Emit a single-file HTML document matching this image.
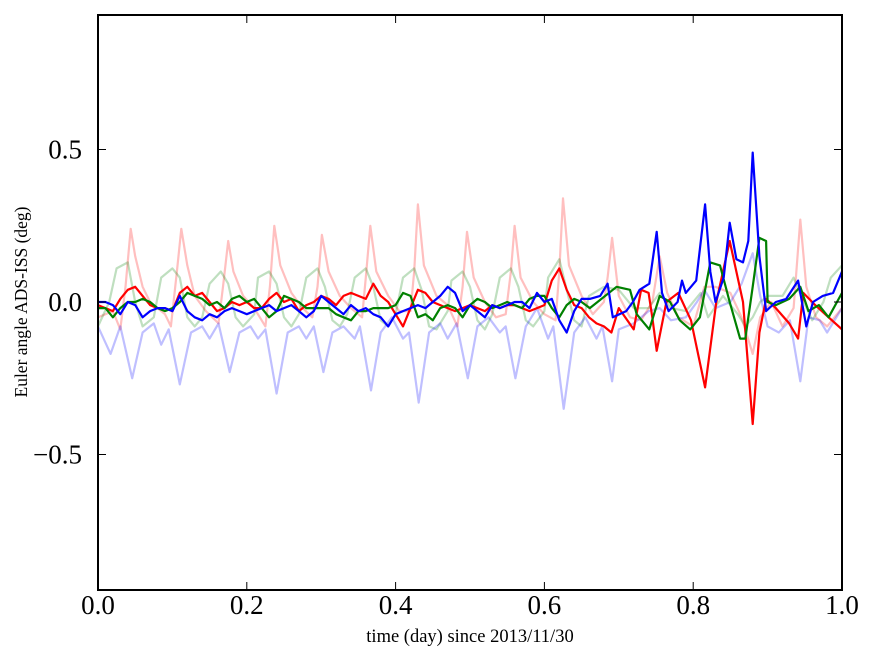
<!DOCTYPE html>
<html><head><meta charset="utf-8"><style>
body{margin:0;background:#fff}
svg text{font-family:"Liberation Serif",serif}
</style></head><body>
<svg id="c" width="875" height="662"></svg>
<script>
const xTicks=[0,0.2,0.4,0.6,0.8,1.0];
const xTickLabels=["0.0","0.2","0.4","0.6","0.8","1.0"];
const yTicks=[-0.5,0,0.5];
const yTickLabels=["\u22120.5","0.0","0.5"];

const fRedT=[0,0.02,0.03,0.037,0.044,0.05,0.06,0.07,0.08,0.09,0.098,0.106,0.112,0.12,0.13,0.145,0.162,0.168,0.175,0.182,0.195,0.21,0.225,0.231,0.237,0.245,0.26,0.275,0.288,0.295,0.301,0.31,0.325,0.34,0.355,0.36,0.366,0.374,0.39,0.405,0.42,0.425,0.43,0.438,0.455,0.47,0.483,0.49,0.496,0.505,0.52,0.535,0.548,0.555,0.56,0.568,0.585,0.6,0.615,0.62,0.625,0.633,0.65,0.665,0.68,0.685,0.691,0.7,0.715,0.73,0.745,0.755,0.765,0.78,0.8,0.815,0.83,0.85,0.865,0.88,0.89,0.905,0.92,0.935,0.944,0.952,0.965,0.98,1.0];
const fRedV=[-0.05,-0.03,-0.09,0.05,0.24,0.15,0.05,0,-0.02,-0.04,-0.08,0.1,0.24,0.12,0.02,-0.03,-0.07,0.05,0.2,0.1,0.02,-0.02,-0.08,0.05,0.25,0.12,0.03,-0.02,-0.05,0.05,0.22,0.1,0.02,-0.02,-0.05,0.08,0.25,0.1,0.02,-0.03,-0.03,0.1,0.32,0.12,0.02,-0.01,-0.08,0.05,0.23,0.08,0,-0.05,-0.04,0.1,0.25,0.08,0,-0.04,-0.06,0.1,0.34,0.12,0.02,-0.04,0,0.08,0.21,0.02,-0.05,-0.06,0,0.15,0.03,-0.05,-0.08,0.05,0.05,0.03,-0.05,-0.17,-0.05,0,-0.08,-0.02,0.27,0.05,-0.05,-0.08,-0.02];

const fBlueT=[0,0.017,0.03,0.046,0.06,0.075,0.085,0.095,0.11,0.125,0.14,0.15,0.162,0.177,0.19,0.205,0.215,0.225,0.24,0.255,0.27,0.28,0.29,0.303,0.315,0.33,0.345,0.352,0.367,0.38,0.395,0.41,0.418,0.431,0.445,0.46,0.47,0.482,0.497,0.51,0.525,0.54,0.548,0.561,0.575,0.59,0.605,0.612,0.626,0.64,0.655,0.67,0.678,0.691,0.7,0.72,0.74,0.755,0.77,0.79,0.805,0.815,0.83,0.85,0.865,0.88,0.89,0.9,0.915,0.93,0.944,0.955,0.97,0.98,1.0];
const fBlueV=[-0.08,-0.17,-0.08,-0.25,-0.1,-0.07,-0.14,-0.09,-0.27,-0.1,-0.08,-0.12,-0.07,-0.23,-0.1,-0.08,-0.12,-0.09,-0.3,-0.1,-0.08,-0.12,-0.08,-0.23,-0.1,-0.08,-0.12,-0.08,-0.29,-0.1,-0.05,-0.12,-0.1,-0.33,-0.1,-0.07,-0.12,-0.07,-0.25,-0.08,-0.05,-0.1,-0.08,-0.25,-0.08,-0.02,-0.12,-0.08,-0.35,-0.1,-0.05,-0.12,-0.08,-0.26,-0.09,-0.07,-0.03,-0.02,-0.06,-0.05,0,0.04,-0.02,0,0.06,0.16,0.02,-0.08,-0.1,-0.06,-0.26,-0.05,-0.06,-0.1,-0.02];

const fGreenT=[0,0.015,0.025,0.04,0.05,0.06,0.075,0.085,0.1,0.11,0.12,0.13,0.14,0.15,0.165,0.175,0.185,0.195,0.21,0.215,0.23,0.24,0.25,0.26,0.27,0.28,0.295,0.305,0.315,0.325,0.335,0.345,0.36,0.37,0.38,0.39,0.4,0.41,0.425,0.435,0.445,0.455,0.47,0.475,0.49,0.5,0.51,0.52,0.53,0.54,0.555,0.565,0.575,0.585,0.6,0.605,0.62,0.63,0.64,0.65,0.66,0.68,0.7,0.72,0.74,0.755,0.77,0.79,0.81,0.82,0.84,0.86,0.87,0.88,0.89,0.9,0.92,0.935,0.945,0.96,0.975,0.985,1.0];
const fGreenV=[-0.08,0,0.11,0.13,0,-0.08,-0.05,0.08,0.11,0.08,-0.05,-0.08,-0.05,0.06,0.1,0.06,-0.05,-0.08,-0.04,0.08,0.1,0.06,-0.05,-0.08,-0.04,0.08,0.11,0.05,-0.06,-0.08,-0.04,0.08,0.11,0.05,-0.06,-0.08,-0.04,0.08,0.11,0.04,-0.08,-0.09,-0.03,0.07,0.1,0.05,-0.06,-0.09,-0.04,0.08,0.11,0.05,-0.06,-0.08,-0.03,0.08,0.14,0.04,-0.06,-0.08,0.02,0.05,0.04,-0.02,-0.02,0.03,-0.02,-0.03,0.03,-0.05,0.02,-0.04,-0.08,-0.05,0,0.02,0.02,0.08,0.02,-0.06,0,0.08,0.12];

const redT=[0,0.01,0.02,0.03,0.04,0.05,0.06,0.07,0.08,0.09,0.1,0.11,0.12,0.13,0.14,0.15,0.16,0.17,0.18,0.19,0.2,0.21,0.22,0.23,0.24,0.25,0.26,0.27,0.28,0.29,0.3,0.31,0.32,0.33,0.34,0.35,0.36,0.37,0.38,0.39,0.4,0.41,0.42,0.43,0.44,0.45,0.46,0.47,0.48,0.49,0.5,0.51,0.52,0.53,0.54,0.55,0.56,0.57,0.58,0.59,0.6,0.61,0.62,0.63,0.64,0.65,0.66,0.67,0.68,0.69,0.7,0.72,0.73,0.74,0.745,0.751,0.764,0.78,0.797,0.816,0.831,0.849,0.867,0.88,0.889,0.898,0.911,0.929,0.941,0.948,0.964,0.982,1.0];
const redV=[-0.01,-0.02,-0.03,0.01,0.04,0.05,0.02,-0.01,-0.02,-0.02,-0.03,0.03,0.05,0.02,0.03,0,-0.03,-0.02,0,-0.01,0,-0.02,-0.02,0.01,0.03,0,0.01,-0.03,-0.01,0,0.02,0.01,-0.01,0.02,0.03,0.02,0.01,0.06,0.02,0,-0.04,-0.08,-0.02,0.04,0.03,0,-0.01,-0.02,-0.03,-0.02,-0.01,-0.02,-0.03,-0.01,-0.02,-0.01,-0.01,-0.02,-0.03,-0.02,-0.01,0.07,0.11,0.04,-0.01,-0.02,-0.05,-0.07,-0.08,-0.1,-0.02,-0.09,0.04,0.03,-0.05,-0.16,0,0.03,-0.06,-0.28,0,0.2,0,-0.4,-0.1,0.01,-0.02,-0.07,-0.12,0.03,-0.01,-0.05,-0.09];

const greenT=[0,0.01,0.02,0.03,0.04,0.05,0.06,0.07,0.08,0.09,0.1,0.11,0.12,0.13,0.14,0.15,0.16,0.17,0.18,0.19,0.2,0.21,0.22,0.23,0.24,0.25,0.26,0.27,0.28,0.29,0.3,0.31,0.32,0.33,0.34,0.35,0.36,0.37,0.38,0.39,0.4,0.41,0.42,0.43,0.44,0.45,0.46,0.47,0.48,0.49,0.5,0.51,0.52,0.53,0.54,0.55,0.56,0.57,0.58,0.59,0.6,0.61,0.62,0.63,0.64,0.65,0.661,0.697,0.715,0.724,0.741,0.755,0.769,0.782,0.796,0.809,0.823,0.836,0.849,0.863,0.87,0.88,0.889,0.898,0.9,0.911,0.929,0.944,0.955,0.969,0.982,1.0];
const greenV=[-0.02,-0.02,-0.05,-0.02,0,0,0.01,0,-0.02,-0.03,-0.02,0,0.03,0.02,0.01,-0.01,0,-0.02,0.01,0.02,0,0.01,-0.02,-0.05,-0.03,0.02,0.01,0,-0.02,-0.02,-0.02,-0.02,-0.04,-0.05,-0.06,-0.03,-0.03,-0.02,-0.02,-0.02,-0.01,0.03,0.02,-0.05,-0.04,-0.06,-0.02,-0.01,-0.02,-0.05,-0.01,0.01,0,-0.02,-0.01,0,-0.01,-0.02,0.01,0.02,0.02,-0.02,-0.05,-0.01,0.01,0,-0.02,0.05,0.04,-0.04,-0.09,0.02,0,-0.06,-0.09,-0.05,0.13,0.12,0,-0.12,-0.12,0.05,0.21,0.2,0,-0.01,0.01,0.05,-0.03,-0.01,-0.05,0.03];

const blueT=[0,0.01,0.02,0.03,0.04,0.05,0.06,0.07,0.08,0.09,0.1,0.11,0.12,0.13,0.14,0.15,0.16,0.17,0.18,0.19,0.2,0.21,0.22,0.23,0.24,0.25,0.26,0.27,0.28,0.29,0.3,0.31,0.32,0.33,0.34,0.35,0.36,0.37,0.38,0.39,0.4,0.41,0.42,0.43,0.44,0.45,0.46,0.47,0.48,0.49,0.5,0.51,0.52,0.53,0.54,0.55,0.56,0.57,0.58,0.59,0.6,0.61,0.62,0.63,0.64,0.65,0.661,0.675,0.685,0.692,0.71,0.719,0.728,0.741,0.751,0.758,0.767,0.779,0.785,0.79,0.804,0.816,0.823,0.83,0.841,0.849,0.858,0.867,0.874,0.88,0.889,0.898,0.911,0.925,0.941,0.952,0.961,0.974,0.988,1.0];
const blueV=[0,0,-0.01,-0.04,0,-0.01,-0.05,-0.03,-0.02,-0.02,-0.03,0.02,-0.03,-0.05,-0.06,-0.04,-0.05,-0.03,-0.02,-0.03,-0.04,-0.03,-0.02,-0.01,-0.03,-0.02,-0.01,-0.03,-0.05,-0.03,0.02,0,-0.02,-0.04,-0.01,-0.03,-0.02,-0.04,-0.05,-0.08,-0.04,-0.03,-0.02,-0.01,-0.02,0,0.02,0.05,0.03,-0.03,-0.01,-0.03,-0.05,-0.01,-0.02,-0.01,0,0,-0.02,0.03,0,0.01,-0.06,-0.1,-0.03,0.01,0.01,0.02,0.06,-0.05,-0.03,0,0.04,0.06,0.23,0.03,-0.03,0,0.07,0.03,0.07,0.32,0.1,0,0.08,0.26,0.14,0.13,0.2,0.49,0.15,-0.03,0,0.01,0.07,-0.08,0,0.02,0.03,0.1];

const NS="http://www.w3.org/2000/svg";
const svg=document.getElementById('c');
const X0=98,X1=842,Y0=15,Y1=590;
const xs=t=>X0+(X1-X0)*t;
const ys=v=>302-305*v;
function mk(tag,a){const e=document.createElementNS(NS,tag);for(const k in a)e.setAttribute(k,a[k]);svg.appendChild(e);return e;}
const clip=document.createElementNS(NS,'clipPath');clip.setAttribute('id','pc');
const cr=document.createElementNS(NS,'rect');cr.setAttribute('x',X0);cr.setAttribute('y',Y0);cr.setAttribute('width',X1-X0);cr.setAttribute('height',Y1-Y0);
clip.appendChild(cr);svg.appendChild(clip);
function series(T,V,col,op,name){
  let d='';for(let i=0;i<T.length;i++)d+=(i?'L':'M')+xs(T[i]).toFixed(1)+','+ys(V[i]).toFixed(1);
  const p=mk('path',{d:d,fill:'none',stroke:col,'stroke-opacity':op,'stroke-width':2.2,'stroke-linejoin':'round','clip-path':'url(#pc)'});
  
  
}
series(fRedT,fRedV,'#ff0000',0.25,'faint-red-series');
series(fGreenT,fGreenV,'#008000',0.25,'faint-green-series');
series(fBlueT,fBlueV,'#0000ff',0.25,'faint-blue-series');
series(redT,redV,'#ff0000',1,'red-series');
series(greenT,greenV,'#008000',1,'green-series');
series(blueT,blueV,'#0000ff',1,'blue-series');
const fr=mk('rect',{x:X0,y:Y0,width:X1-X0,height:Y1-Y0,fill:'none',stroke:'#000','stroke-width':2});


xTicks.forEach((t,i)=>{
  const x=xs(t);
  mk('line',{x1:x,x2:x,y1:Y1,y2:Y1-8,stroke:'#000','stroke-width':1});
  mk('line',{x1:x,x2:x,y1:Y0,y2:Y0+8,stroke:'#000','stroke-width':1});
  const tx=mk('text',{x:x,y:614,'font-size':27,'text-anchor':'middle'});
  tx.textContent=xTickLabels[i];
  
  
});
yTicks.forEach((v,i)=>{
  const y=ys(v);
  mk('line',{x1:X0,x2:X0+8,y1:y,y2:y,stroke:'#000','stroke-width':1});
  mk('line',{x1:X1,x2:X1-8,y1:y,y2:y,stroke:'#000','stroke-width':1});
  const tx=mk('text',{x:82,y:y+9,'font-size':27,'text-anchor':'end'});
  tx.textContent=yTickLabels[i];
  
  
});
const xl=mk('text',{x:470,y:642,'font-size':18.5,'text-anchor':'middle'});
xl.textContent='time (day) since 2013/11/30';


const yl=mk('text',{x:0,y:0,'font-size':17.5,'text-anchor':'middle',transform:'translate(27,302) rotate(-90)'});
yl.textContent='Euler angle ADS-ISS (deg)';


</script>
</body></html>
